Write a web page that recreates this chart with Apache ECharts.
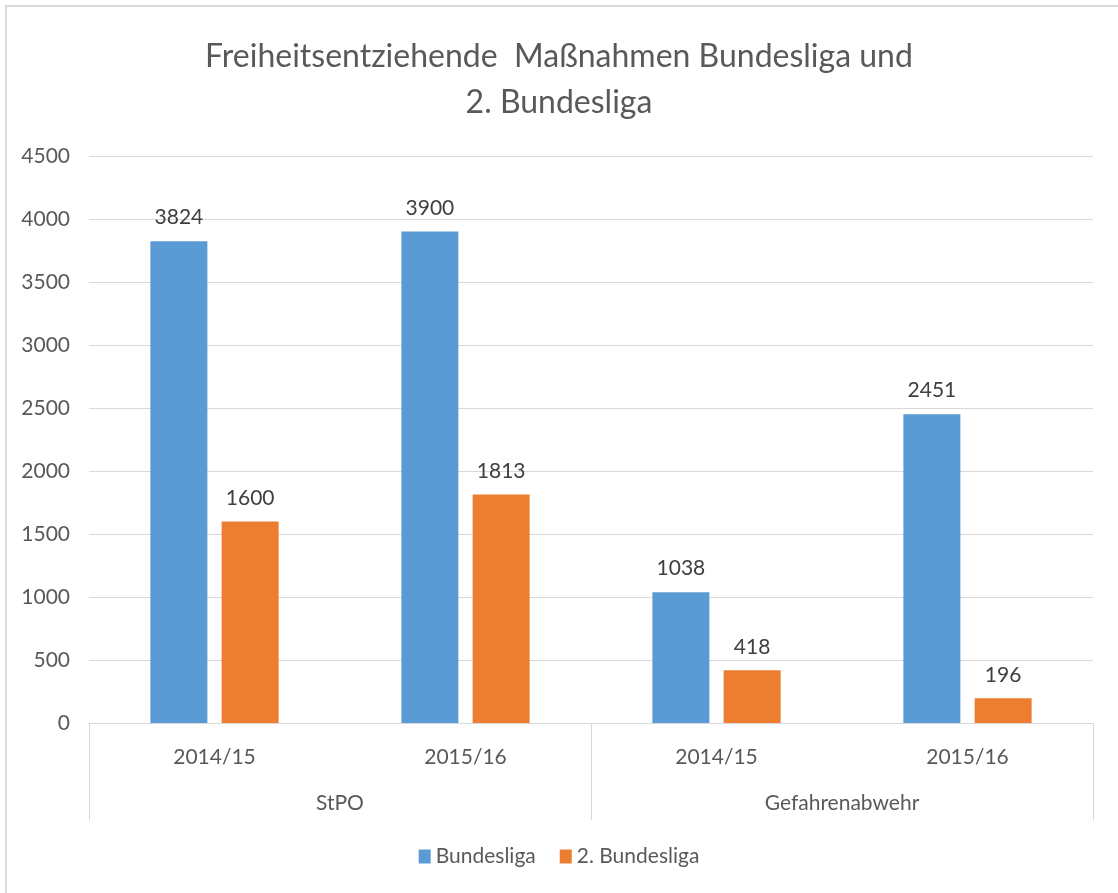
<!DOCTYPE html>
<html>
<head>
<meta charset="utf-8">
<script src="https://cdn.jsdelivr.net/npm/echarts@6/dist/echarts.min.js"></script>
<style>
  html, body { margin: 0; padding: 0; background: #fff; overflow: hidden; }
  #frame { position: absolute; left: 5px; top: 5px; width: 1130px; height: 910px; border: 2px solid #d9d9d9; box-sizing: border-box; }
  #chart { position: absolute; left: 0; top: 0; width: 1118px; height: 893px; }
</style>
</head>
<body>
<div id="frame"></div>
<div id="chart"></div>
<script>
const seasons = ['2014/15', '2015/16', '2014/15', '2015/16'];
const groups = ['StPO', 'Gefahrenabwehr'];
const bundesliga = [3824, 3900, 1038, 2451];
const zweiteBundesliga = [1600, 1813, 418, 196];
const yTicks = { min: 0, max: 4500, interval: 500 };

const textColor = '#595959';
const lineColor = '#d9d9d9';
const font = 'Lato, "Open Sans", sans-serif';

const chart = echarts.init(document.getElementById('chart'));

const labelStyle = {
  show: true,
  position: 'top',
  distance: 13,
  fontSize: 21,
  fontFamily: font,
  color: '#404040'
};

chart.setOption({
  animation: false,
  title: {
    text: 'Freiheitsentziehende  Maßnahmen Bundesliga und\n2. Bundesliga',
    left: 'center',
    top: 29,
    textStyle: {
      fontSize: 32,
      fontWeight: 'normal',
      fontFamily: font,
      color: textColor,
      lineHeight: 46
    }
  },
  legend: {
    bottom: 21,
    left: 'center',
    itemWidth: 12,
    itemHeight: 14,
    itemGap: 24,
    icon: 'rect',
    textStyle: { fontSize: 21, fontFamily: font, color: textColor },
    data: ['Bundesliga', '2. Bundesliga']
  },
  grid: {
    left: 89,
    right: 25,
    top: 156,
    bottom: 170
  },
  xAxis: [
    {
      type: 'category',
      data: seasons,
      position: 'bottom',
      axisLine: { lineStyle: { color: lineColor, width: 1 } },
      axisTick: { show: false },
      axisLabel: { fontSize: 21, fontFamily: font, color: textColor, margin: 24 }
    },
    {
      type: 'category',
      data: groups,
      position: 'bottom',
      axisLine: { show: false },
      axisTick: { show: true, length: 97, lineStyle: { color: lineColor } },
      axisLabel: { fontSize: 21, fontFamily: font, color: textColor, margin: 70 }
    }
  ],
  yAxis: {
    type: 'value',
    min: yTicks.min,
    max: yTicks.max,
    interval: yTicks.interval,
    axisLine: { show: false },
    axisTick: { show: false },
    splitLine: { lineStyle: { color: lineColor, width: 1 } },
    axisLabel: {
      fontSize: 21,
      fontFamily: font,
      color: textColor,
      margin: 19,
      formatter: v => String(v)
    }
  },
  series: [
    {
      name: 'Bundesliga',
      type: 'bar',
      xAxisIndex: 0,
      data: bundesliga,
      barWidth: 57,
      barGap: '25%',
      itemStyle: { color: '#5B9BD5' },
      label: labelStyle
    },
    {
      name: '2. Bundesliga',
      type: 'bar',
      xAxisIndex: 0,
      data: zweiteBundesliga,
      barWidth: 57,
      itemStyle: { color: '#ED7D31' },
      label: labelStyle
    }
  ]
});
</script>
</body>
</html>
